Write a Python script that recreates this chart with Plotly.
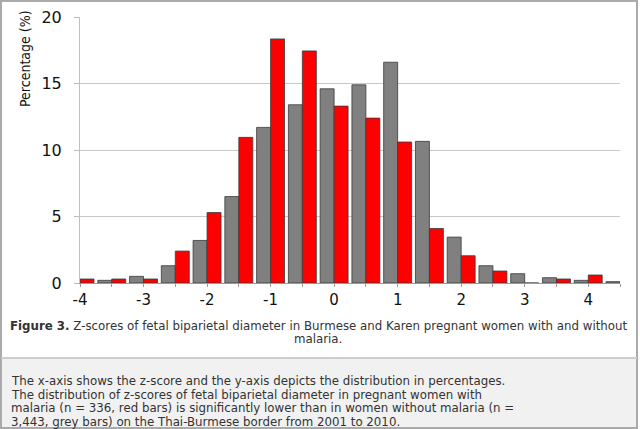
import plotly.graph_objects as go

# bin centres (z-score, 0.5 wide bins)
z_bins = [-4.0, -3.5, -3.0, -2.5, -2.0, -1.5, -1.0, -0.5, 0.0,
          0.5, 1.0, 1.5, 2.0, 2.5, 3.0, 3.5, 4.0, 4.5]
no_malaria_pct = [0.0, 0.2, 0.5, 1.3, 3.2, 6.5, 11.7, 13.4, 14.6,
                  14.9, 16.6, 10.65, 3.45, 1.3, 0.7, 0.4, 0.2, 0.1]
malaria_pct = [0.3, 0.3, 0.3, 2.4, 5.3, 10.95, 18.35, 17.45, 13.3,
               12.4, 10.6, 4.1, 2.05, 0.9, 0.0, 0.3, 0.6, 0.0]

x_tick_vals = [-4, -3, -2, -1, 0, 1, 2, 3, 4]
x_tick_text = ["-4", "-3", "-2", "-1", "0", "1", "2", "3", "4"]
y_tick_vals = [0, 5, 10, 15, 20]

caption_lines = [
    "<b>Figure 3.</b> Z-scores of fetal biparietal diameter in Burmese and Karen "
    "pregnant women with and without",
    "malaria.",
]
description_lines = [
    "The x-axis shows the z-score and the y-axis depicts the distribution in percentages.",
    "The distribution of z-scores of fetal biparietal diameter in pregnant women with",
    "malaria (n = 336, red bars) is significantly lower than in women without malaria (n =",
    "3,443, grey bars) on the Thai-Burmese border from 2001 to 2010.",
]

W, H = 640, 429


def px_x(v):
    return v / W


def px_y(v):
    return 1 - v / H


fig = go.Figure()
fig.add_trace(go.Bar(x=z_bins, y=no_malaria_pct, name="without malaria",
                     marker=dict(color="#808080", line=dict(color="#3a3a3a", width=0.8))))
fig.add_trace(go.Bar(x=z_bins, y=malaria_pct, name="with malaria",
                     marker=dict(color="#ff0000", line=dict(color="#3a3a3a", width=0.8))))

fig.update_layout(
    width=W, height=H,
    margin=dict(l=0, r=0, t=0, b=0),
    paper_bgcolor="white", plot_bgcolor="white",
    barmode="group", bargap=0.12, bargroupgap=0,
    showlegend=False,
    font=dict(family="DejaVu Sans", color="#222"),
    xaxis=dict(
        domain=[px_x(80), px_x(620)],
        range=[-4, 4.5], tickvals=x_tick_vals, ticktext=x_tick_text,
        ticks="outside", ticklen=3, tickcolor="#999",
        minor=dict(dtick=0.5, tick0=0, ticks="outside", ticklen=3, tickcolor="#999"),
        showgrid=False, zeroline=False,
        showline=True, linecolor="#999", linewidth=1,
        tickfont=dict(size=15, color="#111"), automargin=False,
    ),
    yaxis=dict(
        domain=[px_y(283), px_y(17)],
        range=[0, 20], tickvals=y_tick_vals,
        ticks="outside", ticklen=5, tickcolor="#bbb", ticklabelstandoff=9,
        showgrid=True, gridcolor="#c8c8c8", gridwidth=1,
        zeroline=False, showline=True, linecolor="#c0c0c0", linewidth=1,
        tickfont=dict(size=16, color="#111"), automargin=False,
    ),
)

# y-axis title placed near the top like the original
fig.add_annotation(text="Percentage (%)", xref="paper", yref="paper",
                   x=px_x(25), y=px_y(59), xanchor="center", yanchor="middle",
                   textangle=-90, showarrow=False,
                   font=dict(family="DejaVu Sans Condensed, Liberation Sans Narrow", size=14, color="#111"))

# frame, lower panel and separator
fig.add_shape(type="rect", xref="paper", yref="paper",
              x0=px_x(1), x1=px_x(637), y0=px_y(358), y1=px_y(428),
              fillcolor="#f1f1f1", line=dict(width=0), layer="below")
fig.add_shape(type="rect", xref="paper", yref="paper",
              x0=px_x(1), x1=px_x(637), y0=px_y(428), y1=px_y(1),
              line=dict(color="#aaaaaa", width=2))
fig.add_shape(type="line", xref="paper", yref="paper",
              x0=px_x(1), x1=px_x(637), y0=px_y(358), y1=px_y(358),
              line=dict(color="#cccccc", width=2))

for i, line in enumerate(caption_lines):
    fig.add_annotation(text=line, xref="paper", yref="paper",
                       x=px_x(318), y=px_y(326 + 13 * i), xanchor="center", yanchor="middle",
                       showarrow=False,
                       font=dict(family="DejaVu Sans", size=11.8, color="#333"))
for i, line in enumerate(description_lines):
    fig.add_annotation(text=line, xref="paper", yref="paper",
                       x=px_x(9), y=px_y(381 + 13.5 * i), xanchor="left", yanchor="middle",
                       showarrow=False,
                       font=dict(family="DejaVu Sans", size=11.8, color="#333"))

fig.write_html("out.html", config={"displayModeBar": False},
               post_script="document.body.style.margin='0';")
